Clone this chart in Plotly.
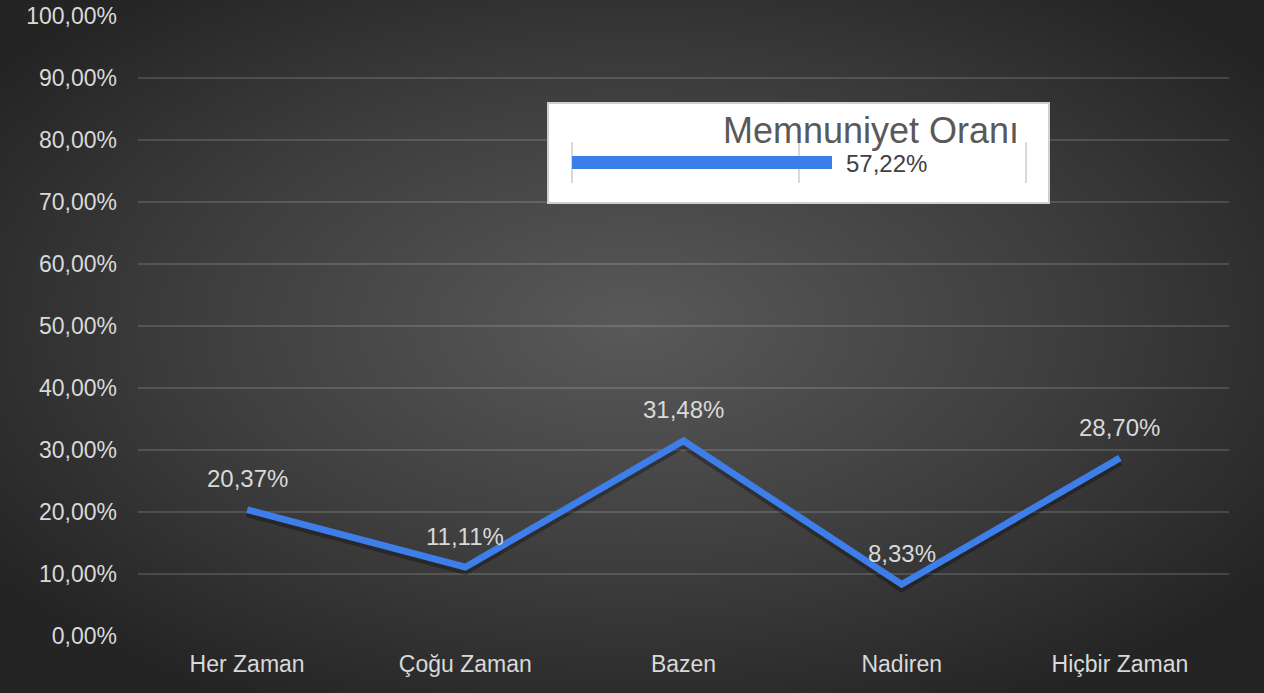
import base64
import plotly.graph_objects as go

# ---- data ----
categories = ["Her Zaman", "Çoğu Zaman", "Bazen", "Nadiren", "Hiçbir Zaman"]
values = [20.37, 11.11, 31.48, 8.33, 28.70]
summary_title = "Memnuniyet Oranı"
summary_category = ["Memnuniyet"]
summary_value = [57.22]
y_ticks = [0, 10, 20, 30, 40, 50, 60, 70, 80, 90, 100]

W, H = 1264, 693
BLUE = "#3d7eea"
LABEL = "#d9d9d9"
FONT = "Liberation Sans, Arial, sans-serif"


def fmt(v):
    return f"{v:.2f}".replace(".", ",") + "%"


def px_x(p):
    return p / W


def px_y(p):
    return (H - p) / H


svg = f"""<svg xmlns='http://www.w3.org/2000/svg' width='{W}' height='{H}' viewBox='0 0 {W} {H}' preserveAspectRatio='none'>
<defs><radialGradient id='g' cx='50%' cy='47%' r='62%'>
<stop offset='0' stop-color='#595959'/>
<stop offset='0.55' stop-color='#3e3e3e'/>
<stop offset='1' stop-color='#242424'/>
</radialGradient></defs>
<rect width='{W}' height='{H}' fill='url(#g)'/></svg>"""
bg_uri = "data:image/svg+xml;base64," + base64.b64encode(svg.encode()).decode()

fig = go.Figure()

# empty trace so the white framed box subplot exists
fig.add_trace(go.Scatter(x=[], y=[], xaxis="x2", yaxis="y2", showlegend=False, hoverinfo="skip"))

# shadow of the line (same data, axis shifted a few pixels)
fig.add_trace(go.Scatter(
    x=categories, y=values, mode="lines", xaxis="x", yaxis="y5",
    line=dict(color="rgba(0,0,0,0.3)", width=9), hoverinfo="skip", showlegend=False,
))
fig.add_trace(go.Scatter(
    x=categories, y=values, mode="lines", xaxis="x", yaxis="y6",
    line=dict(color=BLUE, width=6.8), showlegend=False,
))

# inset bar
fig.add_trace(go.Bar(
    x=summary_value, y=summary_category, orientation="h", xaxis="x3", yaxis="y3",
    marker=dict(color=BLUE, line=dict(width=0)), width=0.34, showlegend=False,
))

annotations = []
for c, v in zip(categories, values):
    annotations.append(dict(
        x=c, y=v, xref="x", yref="y", text=fmt(v), showarrow=False,
        yshift=31, font=dict(family=FONT, size=24, color=LABEL),
    ))
annotations.append(dict(
    x=summary_value[0], y=summary_category[0], xref="x3", yref="y3",
    text=fmt(summary_value[0]), showarrow=False, xanchor="left", xshift=12, yshift=-1,
    font=dict(family=FONT, size=24, color="#404040"),
))
annotations.append(dict(
    x=px_x(1021), y=px_y(130), xref="paper", yref="paper", text=summary_title,
    showarrow=False, xanchor="right", yanchor="middle",
    font=dict(family=FONT, size=36, color="#595959"),
))

# inset geometry (px)
ix0, ix1 = 569.7, 1028.3
iy_top, iy_bot = 142, 183
box_x0, box_x1, box_top, box_bot = 549, 1048, 104, 202

main_x_domain = [px_x(138), px_x(1229)]
main_y_domain = [px_y(636), px_y(16)]
hidden = dict(showticklabels=False, showgrid=False, zeroline=False, ticks="",
              fixedrange=True, automargin=False)

fig.update_layout(
    width=W, height=H, autosize=False,
    margin=dict(l=0, r=0, t=0, b=0, pad=0),
    paper_bgcolor="#2a2a2a", plot_bgcolor="white",
    font=dict(family=FONT, size=23, color=LABEL),
    images=[dict(source=bg_uri, xref="paper", yref="paper", x=0, y=1, sizex=1, sizey=1,
                 sizing="stretch", layer="below", xanchor="left", yanchor="top")],
    xaxis=dict(domain=main_x_domain, range=[-0.5, 4.5], type="category", anchor="y",
               showgrid=False, zeroline=False, showline=False, ticks="", automargin=False,
               tickfont=dict(family=FONT, size=23, color=LABEL), ticklabelstandoff=12,
               fixedrange=True),
    yaxis=dict(domain=main_y_domain, range=[0, 100], anchor="x", automargin=False,
               tickmode="array", tickvals=y_ticks, ticktext=[fmt(t) for t in y_ticks],
               showgrid=True, gridcolor="rgba(255,255,255,0.14)", gridwidth=1.5,
               zeroline=False, showline=False, ticks="",
               tickfont=dict(family=FONT, size=23, color=LABEL), ticklabelstandoff=20,
               fixedrange=True),
    yaxis5=dict(domain=main_y_domain, overlaying="y", range=[0.5, 100.5],
                visible=False, fixedrange=True, automargin=False),
    yaxis6=dict(domain=main_y_domain, overlaying="y", range=[0, 100],
                visible=False, fixedrange=True, automargin=False),
    # white framed box (subplot background)
    xaxis2=dict(domain=[px_x(box_x0), px_x(box_x1)], anchor="y2", range=[0, 1],
                showline=True, mirror=True, linecolor="#cfcfcf", linewidth=1.5, **hidden),
    yaxis2=dict(domain=[px_y(box_bot), px_y(box_top)], anchor="x2", range=[0, 1],
                showline=True, mirror=True, linecolor="#cfcfcf", linewidth=1.5, **hidden),
    # bar subplot
    xaxis3=dict(domain=[px_x(ix0), px_x(ix1)], anchor="y3", range=[-0.5, 100.5],
                tickvals=[0, 50, 100], showgrid=True, gridcolor="#d9d9d9", gridwidth=1.5,
                showticklabels=False, zeroline=False, showline=False, ticks="",
                fixedrange=True, automargin=False),
    yaxis3=dict(domain=[px_y(iy_bot), px_y(iy_top)], anchor="x3", range=[-0.5, 0.5],
                showline=False, **hidden),
    annotations=annotations,
    showlegend=False,
    bargap=0,
)

fig.write_html("out.html", config={"displayModeBar": False},
               post_script="document.body.style.margin='0';")
